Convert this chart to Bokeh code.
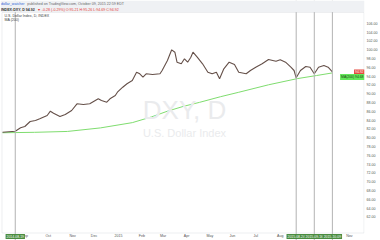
import numpy as np
from bokeh.plotting import figure
from bokeh.models import Range1d, FixedTicker, NumeralTickFormatter, Span, Label, BoxAnnotation
from bokeh.embed import file_html
from bokeh.resources import INLINE

ORIGIN = "2014-08-01"  # first session shown on the chart

# U.S. Dollar Index daily closes (sampled), x = trading sessions since ORIGIN
price_session = [0, 12, 17, 21, 26, 31, 35, 42, 45, 48,
                 54, 59, 65, 70, 76, 82, 90, 93, 98, 101,
                 106, 108, 113, 117, 122, 126, 129, 132, 135, 141,
                 148, 150, 155, 159, 162, 164, 168, 171, 174, 177,
                 179, 183, 188, 193, 197, 201, 204, 208, 213, 218,
                 222, 229, 233, 238, 244, 250, 257, 261, 266, 271,
                 274, 276, 280, 285, 289, 293, 297, 302, 306, 310]
price_close = [81.23, 81.45, 82.23, 82.52, 83.66, 83.89, 84.27, 85.02, 86.00, 85.55,
               84.80, 85.25, 86.16, 87.68, 87.52, 87.68, 88.82, 88.43, 88.05, 88.82,
               89.57, 90.32, 91.45, 92.23, 92.98, 94.86, 94.50, 93.73, 94.50, 94.34,
               94.50, 95.25, 97.52, 99.95, 99.41, 97.14, 96.77, 97.91, 97.14, 98.27,
               99.41, 98.27, 96.77, 94.86, 94.50, 94.86, 93.36, 95.64, 97.14, 96.61,
               94.86, 94.50, 95.25, 96.00, 96.77, 97.75, 97.36, 97.68, 97.14, 96.00,
               95.25, 93.59, 95.25, 96.16, 96.00, 94.50, 96.00, 96.39, 96.00, 94.92]

# 200-day moving average
ma_session = [0, 30, 61, 92, 122, 140, 155, 170, 185, 205, 222, 250, 277, 295, 310]
ma_value = [81.1, 81.2, 81.4, 82.2, 83.4, 84.7, 86.0, 87.1, 88.0, 89.3, 90.3, 92.0, 93.4, 94.1, 94.7]
ma_label = "MA(200) 94.68"

# vertical date markers
event_dates = ["2014-08-19", "2015-08-24", "2015-09-16", "2015-10-09"]

# x-axis month ticks
month_dates = ["2014-09-01", "2014-10-01", "2014-11-03", "2014-12-01", "2015-01-01", "2015-02-02",
               "2015-03-02", "2015-04-01", "2015-05-01", "2015-06-01", "2015-07-01", "2015-08-03",
               "2015-09-01", "2015-10-01", "2015-11-02"]
month_labels = ["Sep", "Oct", "Nov", "Dec", "2015", "Feb", "Mar", "Apr", "May", "Jun", "Jul", "Aug",
                "Sep", "Oct", "Nov"]

# price-axis ticks
y_ticks = list(range(62, 108, 2))

FONT = "Liberation Sans"
W, H = 380, 240
FRAME_W = 366

def sess(d):
    return int(np.busday_count(ORIGIN, d))

month_sess = [sess(d) for d in month_dates]
event_sess = [sess(d) for d in event_dates]

# scale: 1.07 px per session (session 0 at 2 px); 4.4 px per index point (96 at 66.7 px)
XPPU, YPPU = 1.07, 4.4
XR = Range1d(-2 / XPPU, (FRAME_W - 2) / XPPU)
YR = Range1d(96 - (H - 66.7) / YPPU, 96 + 66.7 / YPPU)

def xd(px):  # canvas px -> data x
    return XR.start + px / XPPU

def yd(px):  # canvas px (from top) -> data y
    return YR.end - px / YPPU

p = figure(width=W, height=H, output_backend="svg", toolbar_location=None,
           x_range=XR, y_range=YR, y_axis_location="right",
           min_border_left=0, min_border_right=W - FRAME_W, min_border_top=0, min_border_bottom=0)
p.background_fill_color = "white"
p.border_fill_color = "white"
p.outline_line_color = None
p.grid.visible = False

for ax in (p.xaxis, p.yaxis):
    ax.major_tick_out = 0
    ax.major_tick_in = 0
    ax.minor_tick_out = 0
    ax.minor_tick_in = 0
    ax.axis_line_color = None
    ax.major_label_text_font = FONT
    ax.major_label_text_font_size = "3.6px"
    ax.major_label_text_color = "#555555"

p.yaxis.major_label_standoff = 2
p.xaxis.major_label_standoff = -7
p.yaxis.ticker = FixedTicker(ticks=y_ticks)
p.yaxis.formatter = NumeralTickFormatter(format="0.00")
p.xaxis.ticker = FixedTicker(ticks=month_sess)
p.xaxis.major_label_overrides = {s: l for s, l in zip(month_sess, month_labels)}

# watermark
xmid = xd(185)
p.add_layout(Label(x=xmid, y=yd(109), text="DXY, D",
                   text_align="center", text_baseline="middle", text_font=FONT,
                   text_font_size="26px", text_color="#eaebed"))
p.add_layout(Label(x=xmid, y=yd(132), text="U.S. Dollar Index",
                   text_align="center", text_baseline="middle", text_font=FONT,
                   text_font_size="11px", text_color="#eaebed"))

for s in event_sess:
    p.add_layout(Span(location=s, dimension="height", line_color="#b3b3b3", line_width=1))

p.line(ma_session, ma_value, line_color="#7fdd6f", line_width=1)
p.line(price_session, price_close, line_color="#655049", line_width=1.1)

# chart border
p.add_layout(BoxAnnotation(left=xd(1.5), right=xd(365.5), top=yd(12), bottom=yd(232.5),
                           fill_alpha=0, line_color="#c3c7cd", line_width=1))
# header band
p.add_layout(BoxAnnotation(left=xd(0), right=xd(FRAME_W), top=yd(0), bottom=yd(11.5),
                           fill_color="#eff1f4", fill_alpha=1, line_alpha=0))

def stext(x, ypx, t, color, size="3.6px", **kw):
    p.add_layout(Label(x=xd(x), y=yd(ypx), text=t,
                       text_font=FONT, text_font_size=size, text_color=color,
                       text_baseline="middle", **kw))

stext(0.5, 3.5, "dollar_watcher", "#2a62d6")
stext(27, 3.5, "published on TradingView.com, October 09, 2015 22:59 EDT", "#666666")
stext(0.5, 9, "INDEX:DXY, D  94.92", "#333333", text_font_style="bold")
stext(37, 9, "\u25bc -0.28 (-0.29%)  O:95.21  H:95.26  L:94.69  C:94.92", "#e53935")
stext(4, 15, "U.S. Dollar Index, D, INDEX", "#444444")
stext(4, 19.5, "MA (200)", "#444444")

# last price / MA labels
p.add_layout(Label(x=XR.end, y=price_close[-1], text=f"{price_close[-1]:.2f}", text_align="right",
                   text_baseline="middle", text_font=FONT, text_font_size="3.4px",
                   text_color="white", background_fill_color="#e5493f", padding=1))
p.add_layout(Label(x=XR.end, y=ma_value[-1], y_offset=-4, text=ma_label, text_align="right",
                   text_baseline="middle", text_font=FONT, text_font_size="3.4px",
                   text_color="#1b3d12", background_fill_color="#63e85a", padding=1))

# date labels under event lines
for s, d in zip(event_sess, event_dates):
    p.add_layout(Label(x=s, y=yd(236), text=d, text_align="center",
                       text_baseline="middle", text_font=FONT, text_font_size="3.4px",
                       text_color="white", background_fill_color="#4a8c3f", padding=1))

open("out.html", "w").write(file_html(p, INLINE))
